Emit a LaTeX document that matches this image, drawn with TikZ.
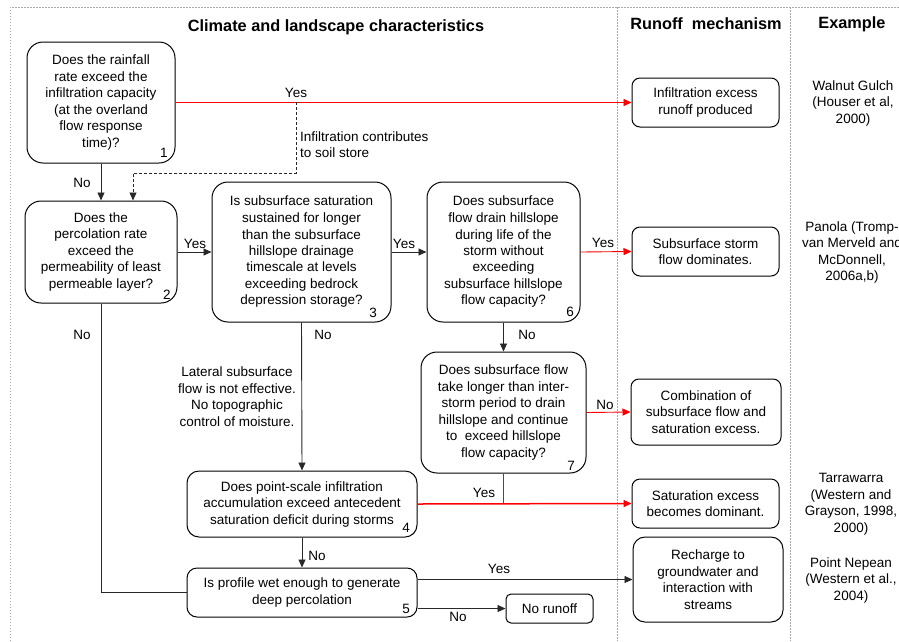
\documentclass[tikz,border=0pt]{standalone}
\usepackage{fontspec}
\setmainfont{Liberation Sans}
\usetikzlibrary{arrows.meta}
\definecolor{framegray}{RGB}{170,170,170}
\definecolor{linegray}{RGB}{40,40,40}
\definecolor{flowred}{RGB}{255,0,0}
\begin{document}
\begin{tikzpicture}[x=1pt,y=-1pt,
  every node/.style={font=\fontsize{13.5}{16.5}\selectfont, inner sep=1pt},
  qbox/.style={draw=black, line width=1pt, rounded corners=16pt, align=center, inner sep=0pt},
  rbox/.style={draw=black, line width=1pt, rounded corners=8pt, align=center, inner sep=0pt},
  framel/.style={draw=framegray, line width=0.8pt, dash pattern=on 1.5pt off 1.5pt},
  arr/.style={draw=linegray, line width=0.9pt, -{Triangle[length=8pt,width=7pt]}},
  redarr/.style={draw=flowred, line width=0.9pt, -{Triangle[length=8pt,width=7pt]}},
  dasharr/.style={draw=linegray, line width=0.9pt, dash pattern=on 3pt off 2pt, -{Triangle[length=8pt,width=7pt]}},
  lbl/.style={inner sep=0pt},
  num/.style={inner sep=0pt},
  title/.style={font=\fontsize{16.3}{19}\selectfont\bfseries, inner sep=0pt},
  example/.style={align=center, inner sep=0pt}
]
\useasboundingbox (0,0) rectangle (899,641);
\fill[white] (0,0) rectangle (899,641);

% frame and column dividers
\draw[framel] (10,641) -- (10,7) -- (899,7);
\draw[framel] (617,7) -- (617,641);
\draw[framel] (790,7) -- (790,641);

% titles
\node[title] (t1) at (336,27) {Climate and landscape characteristics};
\node[title] (t2) at (706,24) {Runoff~~mechanism};
\node[title] (t3) at (852,24) {Example};

% question boxes
\node[qbox, minimum width=148pt, minimum height=121pt] (n1) at (101,102.5)
  {Does the rainfall\\rate exceed the\\infiltration capacity\\(at the overland\\flow response\\time)?};
\node[qbox, minimum width=152pt, minimum height=102pt] (n2) at (101,252)
  {Does the\\percolation rate\\exceed the\\permeability of least\\permeable layer?};
\node[qbox, minimum width=179pt, minimum height=140pt] (n3) at (301.5,252)
  {Is subsurface saturation\\sustained for longer\\than the subsurface\\hillslope drainage\\timescale at levels\\exceeding bedrock\\depression storage?};
\node[qbox, minimum width=153pt, minimum height=140pt] (n6) at (503.5,252)
  {Does subsurface\\flow drain hillslope\\during life of the\\storm without\\exceeding\\subsurface hillslope\\flow capacity?};
\node[qbox, minimum width=165pt, minimum height=121pt] (n7) at (503.5,412.5)
  {Does subsurface flow\\take longer than inter-\\storm period to drain\\hillslope and continue\\to~~exceed hillslope\\flow capacity?};
\node[rbox, rounded corners=12pt, minimum width=230pt, minimum height=66pt] (n4) at (302,504)
  {Does point-scale infiltration\\accumulation exceed antecedent\\saturation deficit during storms};
\node[rbox, rounded corners=10pt, minimum width=230pt, minimum height=49pt] (n5) at (302,592.5)
  {Is profile wet enough to generate\\deep percolation};

% numbers
\node[num] (k1) at (164,153) {1};
\node[num] (k2) at (167,295) {2};
\node[num] (k3) at (373,313) {3};
\node[num] (k6) at (570,312) {6};
\node[num] (k7) at (571,466) {7};
\node[num] (k4) at (406,528) {4};
\node[num] (k5) at (406,609) {5};

% result boxes
\node[rbox, minimum width=147pt, minimum height=49pt] (r1) at (705.5,102.5)
  {Infiltration excess\\runoff produced};
\node[rbox, minimum width=147pt, minimum height=49pt] (r2) at (705.5,251.5)
  {Subsurface storm\\flow dominates.};
\node[rbox, minimum width=150pt, minimum height=66pt] (r3) at (706,412)
  {Combination of\\subsurface flow and\\saturation excess.};
\node[rbox, minimum width=147pt, minimum height=49pt] (r4) at (705.5,503.5)
  {Saturation excess\\becomes dominant.};
\node[rbox, rounded corners=12pt, minimum width=150pt, minimum height=85pt] (r5) at (708,579.5)
  {Recharge to\\groundwater and\\interaction with\\streams};
\node[rbox, rounded corners=5pt, minimum width=87pt, minimum height=29pt] (nr) at (549.5,608.5)
  {No runoff};

% examples
\node[example] (e1) at (853,103) {Walnut Gulch\\(Houser et al,\\2000)};
\node[example] (e2) at (852,252.5) {Panola (Tromp-\\van Merveld and\\McDonnell,\\2006a,b)};
\node[example] (e3) at (851,504) {Tarrawarra\\(Western and\\Grayson, 1998,\\2000)};
\node[example] (e4) at (851,580) {Point Nepean\\(Western et al.,\\2004)};

% connectors
\draw[redarr] (n1.east) -- (r1.west);
\coordinate (d0) at (296,102);
\coordinate (d1) at (296,173);
\coordinate (d2) at (133,173);
\draw[dasharr] (d0) -- (d1) -- (d2) -- (d2 |- n2.north);
\draw[arr] (n1.south) -- (n2.north);
\draw[arr] (n2.east) -- (n3.west);
\draw[arr] (n3.east) -- (n6.west);
\draw[redarr] (n6.east) -- (r2.west);
\draw[arr] (n6.south) -- (n7.north);
\draw[redarr] (n7.east) -- (r3.west);
\draw[arr] (n3.south) -- (n4.north);
\draw[redarr, line width=1.5pt] (n4.east) -- (r4.west);
\draw[draw=flowred, line width=1.2pt] (n7.south) -- (n7.south |- r4.west);
\draw[arr] (n4.south) -- (n5.north);
\draw[draw=linegray, line width=0.9pt] (n2.south) |- (n5.west);
\draw[arr] (n5.east |- r5.west) -- (r5.west);
\draw[arr] (n5.east |- nr.west) -- (nr.west);

% labels
\node[lbl] (y1) at (296,93) {Yes};
\node[lbl, anchor=west, align=left] (inf) at (300,144.5) {Infiltration contributes\\to soil store};
\node[lbl] (no1) at (82,183) {No};
\node[lbl] (y2) at (195,244) {Yes};
\node[lbl] (y3) at (404,244) {Yes};
\node[lbl] (y6) at (603,243) {Yes};
\node[lbl] (no2) at (82,335) {No};
\node[lbl] (no3) at (323,335) {No};
\node[lbl] (no6) at (527,335) {No};
\node[lbl, align=center] (lat) at (237,396.5) {Lateral subsurface\\flow is not effective.\\No topographic\\control of moisture.};
\node[lbl] (no7) at (605,405) {No};
\node[lbl] (y47) at (484,493) {Yes};
\node[lbl] (no4) at (317,556) {No};
\node[lbl] (y5) at (499,569) {Yes};
\node[lbl] (no5) at (458,617) {No};
\end{tikzpicture}
\end{document}
